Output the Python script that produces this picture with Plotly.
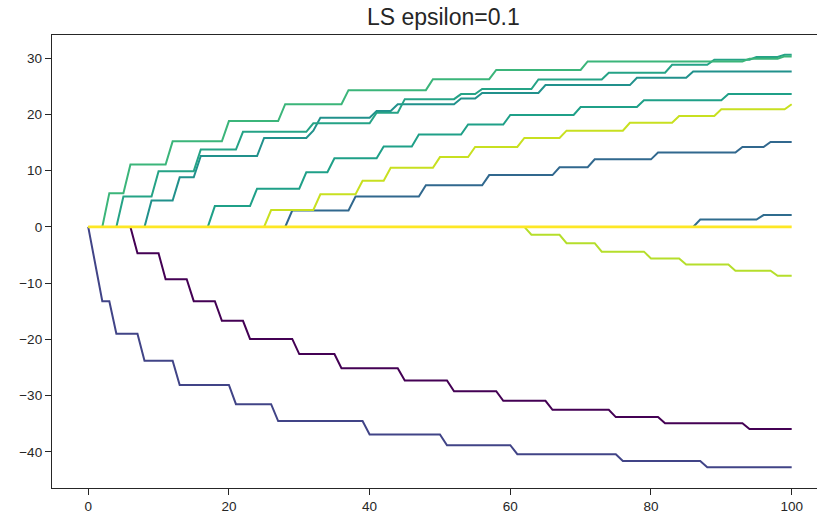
import plotly.graph_objects as go

# Each run: the step index at which a new cumulative level is reached, and that level.
steps_p1 = [7, 11, 15, 19, 23, 30, 36, 45, 52, 59, 66, 75, 82, 94]
levels_p1 = [-4.7, -9.3, -13.2, -16.7, -19.9, -22.6, -25.1, -27.3, -29.2, -30.9, -32.5, -33.8, -34.9, -35.9]

steps_p2 = [1, 2, 4, 8, 13, 21, 27, 40, 51, 61, 76, 88]
levels_p2 = [-6.6, -13.2, -19.0, -23.8, -28.1, -31.5, -34.5, -36.9, -38.8, -40.4, -41.6, -42.7]

steps_f = [29, 38, 48, 57, 67, 72, 81, 93, 97]
levels_f = [2.9, 5.4, 7.4, 9.2, 10.6, 12.0, 13.2, 14.2, 15.1]

steps_g = [87, 96]
levels_g = [1.3, 2.1]

steps_c = [9, 13, 16, 25, 32, 33, 41, 44, 53, 56, 65, 78, 86]
levels_c = [4.7, 8.8, 12.6, 15.8, 17.1, 19.4, 20.6, 21.8, 22.8, 23.8, 25.2, 26.5, 27.6]

steps_d = [18, 24, 31, 35, 42, 47, 54, 60, 70, 79, 91]
levels_d = [3.7, 6.8, 9.7, 12.2, 14.3, 16.4, 18.2, 19.9, 21.3, 22.5, 23.6]

steps_b = [5, 10, 16, 22, 32, 41, 45, 53, 56, 64, 74, 83, 89, 95, 99]
levels_b = [5.4, 9.9, 13.75, 16.9, 18.4, 20.3, 22.7, 23.6, 24.5, 26.2, 27.4, 28.8, 29.7, 30.2, 30.6]

steps_a = [3, 6, 12, 20, 28, 37, 49, 58, 71, 94, 99]
levels_a = [6.0, 11.1, 15.2, 18.8, 21.8, 24.3, 26.25, 27.9, 29.4, 29.9, 30.3]

steps_h = [63, 68, 73, 80, 85, 92, 98]
levels_h = [-1.4, -2.9, -4.4, -5.6, -6.7, -7.8, -8.7]

steps_e = [26, 33, 39, 43, 50, 55, 62, 68, 77, 84, 90, 100]
levels_e = [3.0, 5.8, 8.2, 10.5, 12.4, 14.2, 15.8, 17.1, 18.5, 19.7, 20.9, 21.8]

steps_flat = []
levels_flat = []

n_steps = 100

series = [
    (steps_p1, levels_p1, "#440154", 2.0),
    (steps_p2, levels_p2, "#414487", 2.0),
    (steps_f, levels_f, "#31688e", 2.0),
    (steps_g, levels_g, "#2f6c8e", 2.0),
    (steps_c, levels_c, "#21918c", 2.0),
    (steps_d, levels_d, "#1fa088", 2.0),
    (steps_b, levels_b, "#25a386", 2.0),
    (steps_a, levels_a, "#3bb57a", 2.0),
    (steps_h, levels_h, "#b5de2b", 2.0),
    (steps_e, levels_e, "#c8e020", 2.0),
    (steps_flat, levels_flat, "#fde725", 2.8),
]


def run_path(steps, levels):
    """Cumulative level per step: each change happens over one step."""
    xs, ys = [0], [0.0]
    cur = 0.0
    for t, v in zip(steps, levels):
        xs += [t - 1, t]
        ys += [cur, v]
        cur = v
    xs.append(n_steps)
    ys.append(cur)
    return xs, ys


fig = go.Figure()
for steps, levels, color, width in series:
    xs, ys = run_path(steps, levels)
    fig.add_trace(go.Scatter(x=xs, y=ys, mode="lines",
                             line=dict(color=color, width=width),
                             hoverinfo="skip", showlegend=False))

axis_color = "#262626"
fig.update_layout(
    width=817, height=520,
    margin=dict(l=52, r=0, t=35, b=32),
    paper_bgcolor="white", plot_bgcolor="white",
    font=dict(family="Liberation Sans, Arial, sans-serif", color=axis_color, size=13),
    title=dict(text="LS epsilon=0.1", x=0.5426, xanchor="center",
               y=0.968, yanchor="middle",
               font=dict(size=23, color=axis_color)),
    showlegend=False,
)
fig.update_xaxes(range=[-5.15, 103.6], tickvals=[0, 20, 40, 60, 80, 100],
                 showgrid=False, zeroline=False,
                 showline=True, linecolor=axis_color, linewidth=1.3, mirror=True,
                 ticks="outside", ticklen=6, tickwidth=1.3, tickcolor=axis_color,
                 tickfont=dict(size=13.5))
fig.update_yaxes(range=[-46.4, 34.1], tickvals=[-40, -30, -20, -10, 0, 10, 20, 30],
                 showgrid=False, zeroline=False,
                 showline=True, linecolor=axis_color, linewidth=1.3, mirror=False,
                 ticks="outside", ticklen=6, tickwidth=1.3, tickcolor=axis_color,
                 tickfont=dict(size=13.5))

fig.write_html("out.html")
